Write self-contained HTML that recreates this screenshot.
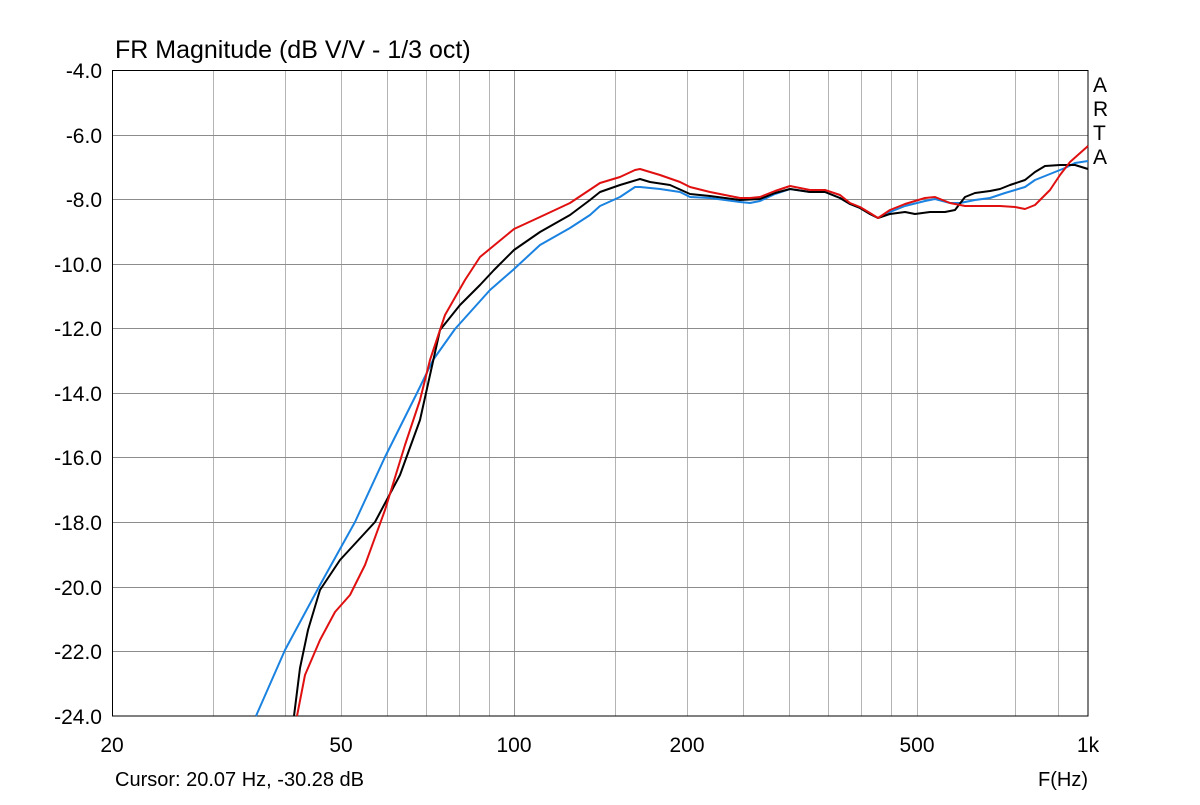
<!DOCTYPE html>
<html><head><meta charset="utf-8"><style>
body{margin:0;background:#fff;}
svg text{font-family:"Liberation Sans",sans-serif;fill:#000;}
</style></head><body>
<svg width="1200" height="800" viewBox="0 0 1200 800" xmlns="http://www.w3.org/2000/svg">
<rect width="1200" height="800" fill="#fff"/>
<g stroke="#b4b4b4" stroke-width="1">
<line x1="213.5" y1="70" x2="213.5" y2="716"/>
<line x1="285.5" y1="70" x2="285.5" y2="716"/>
<line x1="341.5" y1="70" x2="341.5" y2="716"/>
<line x1="387.5" y1="70" x2="387.5" y2="716"/>
<line x1="426.5" y1="70" x2="426.5" y2="716"/>
<line x1="459.5" y1="70" x2="459.5" y2="716"/>
<line x1="489.5" y1="70" x2="489.5" y2="716"/>
<line x1="514.5" y1="70" x2="514.5" y2="716" stroke="#999"/>
<line x1="615.5" y1="70" x2="615.5" y2="716"/>
<line x1="687.5" y1="70" x2="687.5" y2="716"/>
<line x1="743.5" y1="70" x2="743.5" y2="716"/>
<line x1="789.5" y1="70" x2="789.5" y2="716"/>
<line x1="828.5" y1="70" x2="828.5" y2="716"/>
<line x1="861.5" y1="70" x2="861.5" y2="716"/>
<line x1="891.5" y1="70" x2="891.5" y2="716"/>
<line x1="917.5" y1="70" x2="917.5" y2="716"/>
<line x1="1015.5" y1="70" x2="1015.5" y2="716"/>
<line x1="1058.5" y1="70" x2="1058.5" y2="716"/>
</g>
<g stroke="#8c8c8c" stroke-width="1">
<line x1="112" y1="135.5" x2="1088" y2="135.5"/>
<line x1="112" y1="199.5" x2="1088" y2="199.5"/>
<line x1="112" y1="264.5" x2="1088" y2="264.5"/>
<line x1="112" y1="328.5" x2="1088" y2="328.5"/>
<line x1="112" y1="393.5" x2="1088" y2="393.5"/>
<line x1="112" y1="457.5" x2="1088" y2="457.5"/>
<line x1="112" y1="522.5" x2="1088" y2="522.5"/>
<line x1="112" y1="587.5" x2="1088" y2="587.5"/>
<line x1="112" y1="651.5" x2="1088" y2="651.5"/>
</g>
<rect x="112.5" y="70.5" width="975.5" height="645.5" fill="none" stroke="#000" stroke-width="1"/>
<g fill="none" stroke-width="2" stroke-linejoin="round">
<polyline stroke="#1a82e0" points="256,716 285,650 320,585 355,522 385,457 417,393 433,360 455,329 490,290 513,270 540,245 570,228 590,215 600,206 620,197 635,187 640,187 660,189 680,192 690,197 710,198 740,202 750,203 760,201 775,194 790,189 810,192 825,192 840,198 850,204 860,208 870,214 878,218 890,212 905,206 925,201 935,199 950,203 960,203 975,200 990,198 1005,193 1025,187 1035,180 1050,174 1065,168 1075,163 1088,161"/>
<polyline stroke="#000" points="294,716 300,668 308,630 320,590 340,560 375,522 400,475 420,420 430,375 440,330 460,305 480,285 494,270 514,250 540,232 570,215 590,200 600,192 620,185 640,179 650,182 670,185 690,194 710,196 740,200 760,199 775,193 790,189 810,192 825,192 840,198 850,204 860,208 870,214 878,218 890,214 905,212 915,214 930,212 945,212 955,210 965,197 975,193 990,191 1000,189 1010,185 1025,180 1035,172 1045,166 1060,165 1075,165 1088,169"/>
<polyline stroke="#e01010" points="297,716 305,675 320,640 335,612 350,595 365,565 385,510 405,445 420,400 430,360 445,315 465,280 480,257 514,229 540,217 570,203 600,183 620,177 635,170 640,169 660,175 680,182 690,187 710,192 740,198 750,198 760,197 775,191 790,186 810,190 825,190 840,195 850,203 860,207 870,213 878,218 890,210 905,204 925,198 935,197 950,203 965,206 980,206 1000,206 1015,207 1025,209 1035,205 1050,190 1060,175 1070,162 1088,146"/>
</g>
<text x="115" y="58" font-size="25">FR Magnitude (dB V/V - 1/3 oct)</text>
<g font-size="21" text-anchor="end">
<text x="102" y="78">-4.0</text>
<text x="102" y="143">-6.0</text>
<text x="102" y="207">-8.0</text>
<text x="102" y="272">-10.0</text>
<text x="102" y="336">-12.0</text>
<text x="102" y="401">-14.0</text>
<text x="102" y="465">-16.0</text>
<text x="102" y="530">-18.0</text>
<text x="102" y="595">-20.0</text>
<text x="102" y="659">-22.0</text>
<text x="102" y="724">-24.0</text>
</g>
<g font-size="21" text-anchor="middle">
<text x="112" y="752">20</text>
<text x="341" y="752">50</text>
<text x="514" y="752">100</text>
<text x="687" y="752">200</text>
<text x="917" y="752">500</text>
<text x="1088" y="752">1k</text>
</g>
<g font-size="21">
<text x="1093" y="92">A</text>
<text x="1093" y="116">R</text>
<text x="1093" y="140">T</text>
<text x="1093" y="164">A</text>
</g>
<text x="115" y="786" font-size="20">Cursor: 20.07 Hz, -30.28 dB</text>
<text x="1088" y="786" font-size="20" text-anchor="end">F(Hz)</text>
</svg>
</body></html>
